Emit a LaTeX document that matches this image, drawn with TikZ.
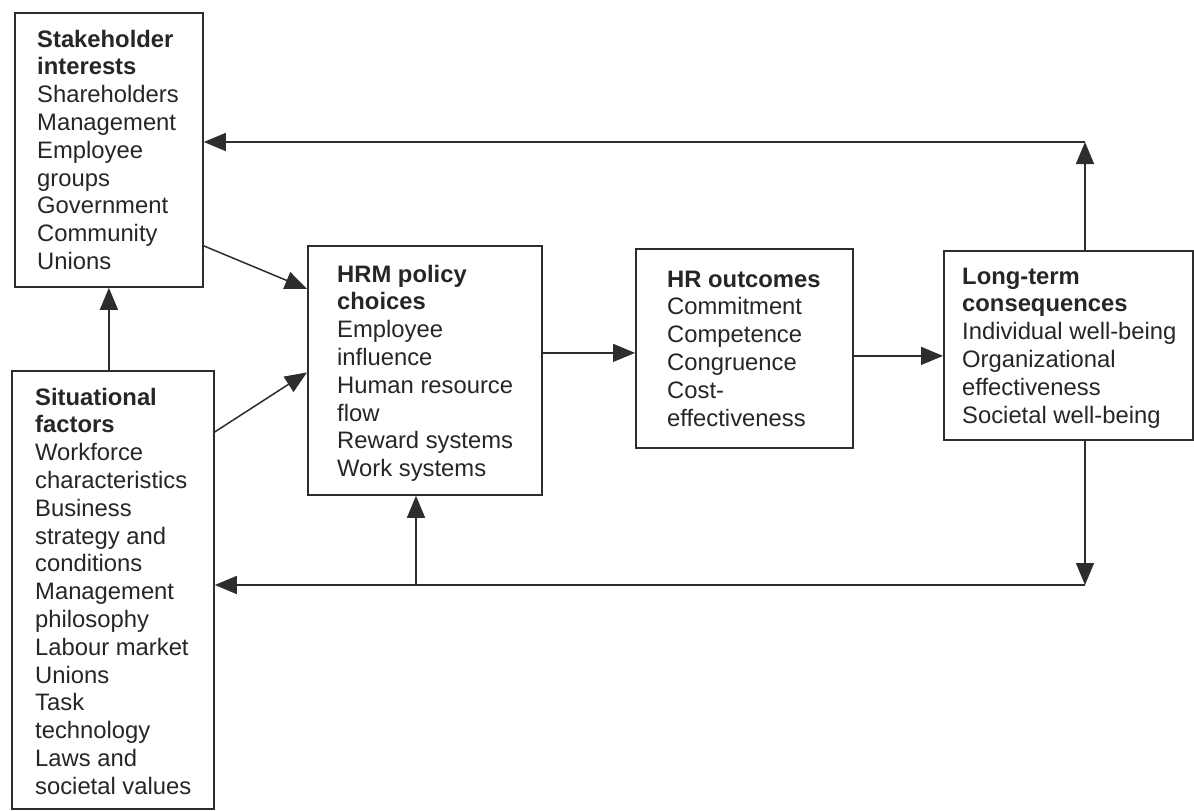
\documentclass[tikz,border=0pt]{standalone}
\usepackage{fontspec}
\setmainfont{Liberation Sans}
\usetikzlibrary{arrows.meta}
\definecolor{linec}{RGB}{45,45,45}
\definecolor{textc}{RGB}{38,38,38}
\tikzset{
  box/.style={draw=linec, line width=1.8pt, inner sep=0pt, anchor=north west},
  txt/.style={anchor=north west, inner sep=0pt, align=left, text=textc,
    font=\fontsize{23.8}{27.8}\selectfont},
  arr/.style={draw=linec, line width=1.5pt, -{Triangle[length=22pt,width=18pt]}},
}
\newcommand{\fl}{\rule{0pt}{17.8pt}}
\begin{document}
\begin{tikzpicture}[x=1pt,y=-1pt]
\useasboundingbox[fill=white] (0,0) rectangle (1194,811);
% boxes
\node[box, minimum width=188pt, minimum height=274pt] (sh) at (14,12) {};
\node[box, minimum width=202pt, minimum height=438pt] (sit) at (11,370) {};
\node[box, minimum width=234pt, minimum height=249pt] (hrm) at (307,245) {};
\node[box, minimum width=217pt, minimum height=199pt] (out) at (635,248) {};
\node[box, minimum width=249pt, minimum height=189pt] (lt) at (943,250) {};
% texts
\node[txt] (sht) at (37,29) {\fl\textbf{Stakeholder}\\\textbf{interests}\\Shareholders\\Management\\Employee\\groups\\Government\\Community\\Unions};
\node[txt] (sitt) at (35,387) {\fl\textbf{Situational}\\\textbf{factors}\\Workforce\\characteristics\\Business\\strategy and\\conditions\\Management\\philosophy\\Labour market\\Unions\\Task\\technology\\Laws and\\societal values};
\node[txt] (hrmt) at (337,264) {\fl\textbf{HRM policy}\\\textbf{choices}\\Employee\\influence\\Human resource\\flow\\Reward systems\\Work systems};
\node[txt] (outt) at (667,269) {\fl\textbf{HR outcomes}\\Commitment\\Competence\\Congruence\\Cost-\\effectiveness};
\node[txt] (ltt) at (962,266) {\fl\textbf{Long-term}\\\textbf{consequences}\\Individual well-being\\Organizational\\effectiveness\\Societal well-being};
% helper coordinates
\coordinate (o1) at ([yshift=-4.5pt]out.west);
\coordinate (o2) at ([yshift=-10.5pt]lt.west);
\coordinate (tr) at (1085,142);
\coordinate (br) at (1085,585);
\coordinate (bm) at (416,585);
% connectors
\draw[arr] (sit.north -| sh.south) -- (sh.south);
\draw[arr] ([yshift=-96pt]sh.east) -- ([yshift=81.5pt]hrm.west);
\draw[arr] ([yshift=158pt]sit.east) -- ([yshift=-2pt]hrm.west);
\draw[arr] (hrm.east |- o1) -- (o1);
\draw[arr] (out.east |- o2) -- (o2);
\draw[arr] (lt.north -| tr) -- (tr);
\draw[arr] (tr) -- (sh.east |- tr);
\draw[arr] (lt.south -| br) -- (br);
\draw[arr] (br) -- (sit.east |- br);
\draw[arr] (bm) -- (hrm.south -| bm);
\end{tikzpicture}
\end{document}
